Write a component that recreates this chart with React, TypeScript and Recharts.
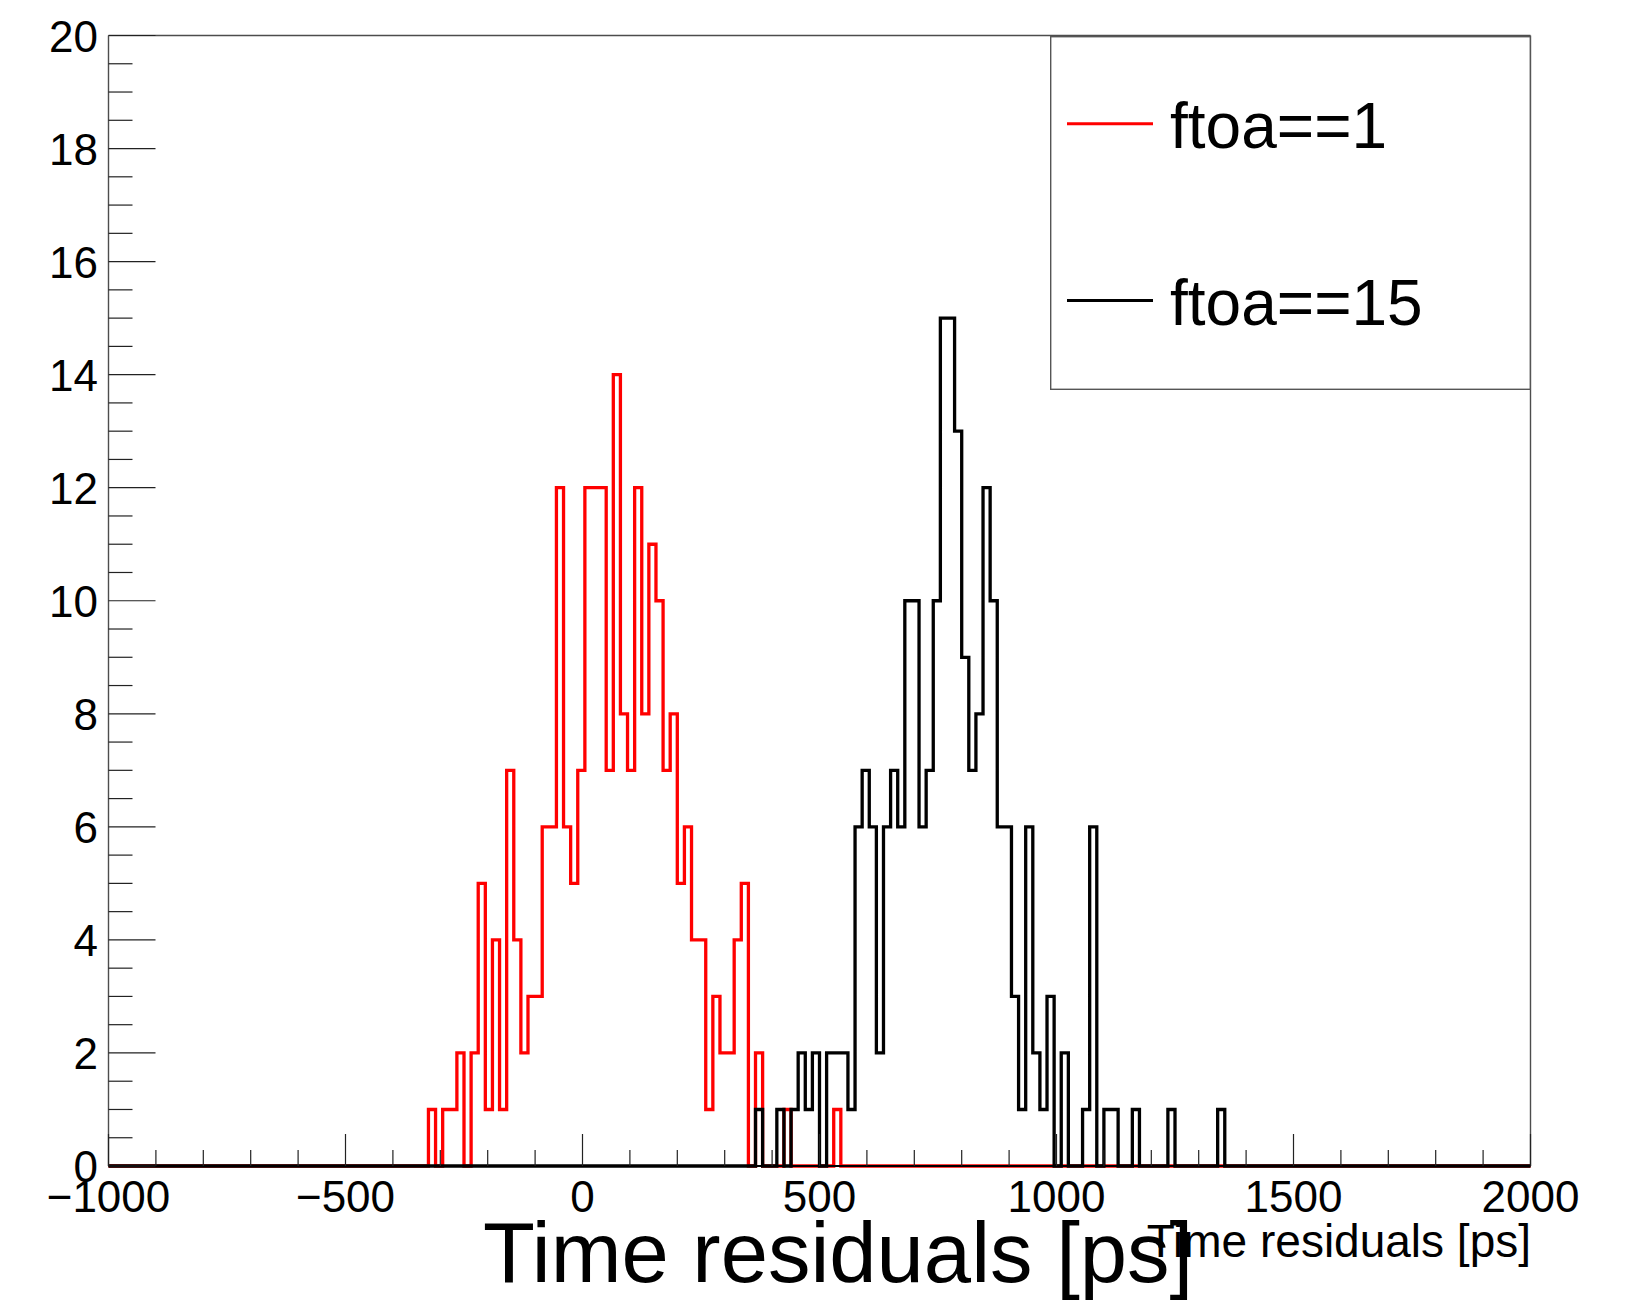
import * as React from 'react'
import { LineChart, Line, XAxis, YAxis, ReferenceLine, Legend } from 'recharts'

const FONT = '"Liberation Sans", Arial, Helvetica, sans-serif'

const X_MIN = -1000
const X_MAX = 2000
const BIN_WIDTH = 15

// ftoa==1 : counts per 15 ps bin, first bin starts at -325 ps
const RED_START = -325
const RED_COUNTS = [
  1, 0, 1, 1, 2, 0, 2, 5, 1, 4, 1, 7, 4, 2, 3, 3, 6, 6, 12, 6,
  5, 7, 12, 12, 12, 7, 14, 8, 7, 12, 8, 11, 10, 7, 8, 5, 6, 4, 4, 1,
  3, 2, 2, 4, 5, 0, 2, 0, 0, 0, 1, 0, 0, 0, 0, 0, 0, 1,
]

// ftoa==15 : counts per 15 ps bin, first bin starts at 365 ps
const BLACK_START = 365
const BLACK_COUNTS = [
  1, 0, 0, 1, 0, 1, 2, 1, 2, 0, 2, 2, 2, 1, 6, 7, 6, 2, 6, 7,
  6, 10, 10, 6, 7, 10, 15, 15, 13, 9, 7, 8, 12, 10, 6, 6, 3, 1, 6, 2,
  1, 3, 0, 2, 0, 0, 1, 6, 0, 1, 1, 0, 0, 1, 0, 0, 0, 0, 1, 0,
  0, 0, 0, 0, 0, 1,
]

const X_LABELS = [-1000, -500, 0, 500, 1000, 1500, 2000]
const Y_LABELS = [0, 2, 4, 6, 8, 10, 12, 14, 16, 18, 20]
const X_MINOR_STEP = 100
const Y_MINOR_STEP = 0.5

const LEGEND_ITEMS = [
  { name: 'ftoa==1', color: '#ff0000' },
  { name: 'ftoa==15', color: '#000000' },
]

const X_TICKS: number[] = []
for (let v = X_MIN; v <= X_MAX; v += X_MINOR_STEP) X_TICKS.push(v)
const Y_TICKS: number[] = []
for (let v = 0; v <= 20; v += Y_MINOR_STEP) Y_TICKS.push(v)

function countAt(counts: number[], start: number, edge: number) {
  const i = Math.round((edge - start) / BIN_WIDTH)
  if (i < 0 || i >= counts.length) return 0
  return counts[i]
}

const nBins = (X_MAX - X_MIN) / BIN_WIDTH
const rows: { x: number; red: number; black: number }[] = []
for (let k = 0; k <= nBins; k++) {
  const edge = X_MIN + Math.min(k, nBins - 1) * BIN_WIDTH
  rows.push({
    x: X_MIN + k * BIN_WIDTH,
    red: countAt(RED_COUNTS, RED_START, edge),
    black: countAt(BLACK_COUNTS, BLACK_START, edge),
  })
}

const fmt = (v: number) => (v < 0 ? '\u2212' + Math.abs(v) : String(v))

function XTick(props: any) {
  const { x, y, payload } = props
  const major = X_LABELS.includes(payload.value)
  return (
    <g>
      <line x1={x} x2={x} y1={y} y2={y - (major ? 32 : 16)} stroke="#222" strokeWidth={1.2} />
      {major && (
        <text x={x} y={y + 45.7} textAnchor="middle" fontSize={44} fontFamily={FONT} fill="#000">
          {fmt(payload.value)}
        </text>
      )}
    </g>
  )
}

function YTick(props: any) {
  const { x, y, payload } = props
  const major = Y_LABELS.includes(payload.value)
  return (
    <g>
      <line x1={x} x2={x + (major ? 47 : 24)} y1={y} y2={y} stroke="#222" strokeWidth={1.2} />
      {major && (
        <text x={x - 10.5} y={y + 16} textAnchor="end" fontSize={44} fontFamily={FONT} fill="#000">
          {fmt(payload.value)}
        </text>
      )}
    </g>
  )
}

function AxisTitles(props: any) {
  const vb = props.viewBox ?? { x: 108.5, y: 1166, width: 1422 }
  return (
    <g fontFamily={FONT} fill="#000">
      <text x={vb.x + 374.5} y={vb.y + 115.7} fontSize={85}>
        Time residuals [ps]
      </text>
      <text x={vb.x + vb.width + 0.5} y={vb.y + 90.7} fontSize={46} textAnchor="end">
        Time residuals [ps]
      </text>
    </g>
  )
}

function LegendBox() {
  return (
    <svg width={481} height={354} style={{ display: 'block' }}>
      <rect x={0.7} y={0.7} width={479.6} height={352.6} fill="#fff" stroke="#555" strokeWidth={1.4} />
      {LEGEND_ITEMS.map((item, i) => {
        const lineY = 87.8 + i * 176.7
        return (
          <g key={item.name}>
            <line x1={17} x2={103} y1={lineY} y2={lineY} stroke={item.color} strokeWidth={3} />
            <text x={120} y={lineY + 24.4} fontSize={64} fontFamily={FONT} fill="#000">
              {item.name}
            </text>
          </g>
        )
      })}
    </svg>
  )
}

export default function App() {
  return (
    <div style={{ width: 1635, height: 1300, background: '#fff' }}>
      <style>{'body{margin:0}'}</style>
      <LineChart
        width={1635}
        height={1300}
        data={rows}
        margin={{ top: 35.5, right: 104.5, bottom: 0, left: 0 }}
      >
        <XAxis
          type="number"
          dataKey="x"
          domain={[X_MIN, X_MAX]}
          ticks={X_TICKS}
          interval={0}
          height={134}
          tickSize={0}
          tickMargin={0}
          tickLine={false}
          tick={XTick}
          axisLine={{ stroke: '#000', strokeWidth: 2 }}
          label={AxisTitles}
        />
        <YAxis
          type="number"
          domain={[0, 20]}
          ticks={Y_TICKS}
          interval={0}
          width={108.5}
          tickSize={0}
          tickMargin={0}
          tickLine={false}
          tick={YTick}
          axisLine={{ stroke: '#4d4d4d', strokeWidth: 1.4 }}
        />
        <ReferenceLine y={20} stroke="#4d4d4d" strokeWidth={1.4} />
        <ReferenceLine x={X_MAX} stroke="#4d4d4d" strokeWidth={1.4} />
        <Line
          type="stepAfter"
          dataKey="red"
          name="ftoa==1"
          stroke="#ff0000"
          strokeWidth={3.3}
          dot={false}
          activeDot={false}
          isAnimationActive={false}
        />
        <Line
          type="stepAfter"
          dataKey="black"
          name="ftoa==15"
          stroke="#000000"
          strokeWidth={3.3}
          dot={false}
          activeDot={false}
          isAnimationActive={false}
        />
        <Legend
          layout="vertical"
          align="center"
          verticalAlign="middle"
          content={() => <LegendBox />}
          wrapperStyle={{ left: 1050, top: 35.5, width: 481, height: 354 }}
        />
      </LineChart>
    </div>
  )
}
